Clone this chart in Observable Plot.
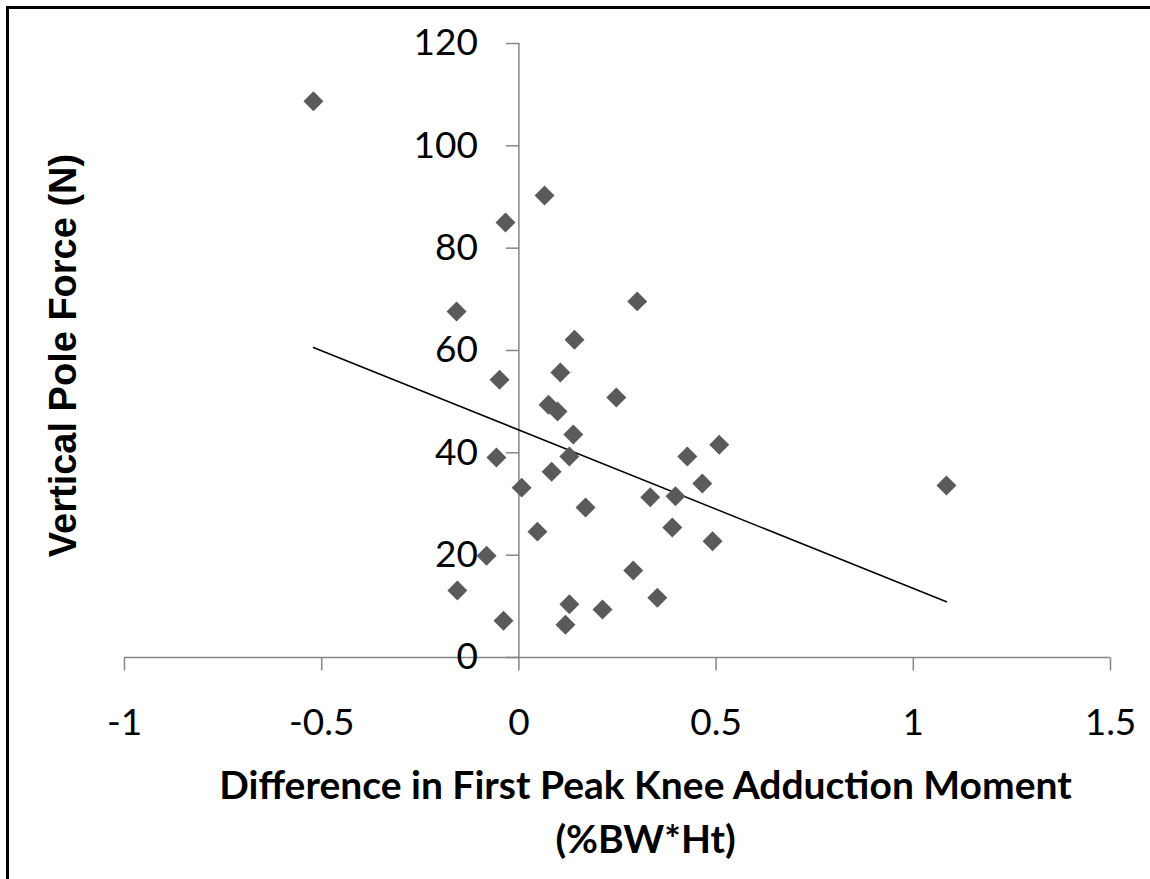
<!DOCTYPE html>
<html><head><meta charset="utf-8">
<script src="https://cdn.jsdelivr.net/npm/d3@7"></script>
<script src="https://cdn.jsdelivr.net/npm/@observablehq/plot@0.6"></script>
<style>
html,body{margin:0;padding:0;background:#fff;overflow:hidden;}
#wrap{position:relative;width:1150px;height:879px;overflow:hidden;background:#fff;}
#frame{position:absolute;left:6px;top:6px;width:1300px;height:1000px;border:3px solid #000;box-sizing:border-box;pointer-events:none;}
#chart{position:absolute;left:0;top:0;}
</style></head><body>
<div id="wrap"><div id="chart"></div><div id="frame"></div></div>
<script>
// Difference in first peak knee adduction moment (%BW*Ht)
const xValues = [-0.521, -0.034, 0.065, -0.158, 0.300, 0.141, -0.049, 0.105, 0.075, 0.098,
                 0.247, 0.138, 0.508, -0.057, 0.128, 0.427, 0.083, 0.465, 0.007, 0.333,
                 0.397, 1.084, 0.169, 0.047, 0.389, 0.491, -0.082, 0.290, -0.156, 0.128,
                 0.351, 0.212, -0.039, 0.118];
// Vertical pole force (N)
const yValues = [108.7, 85.0, 90.3, 67.6, 69.6, 62.1, 54.3, 55.7, 49.4, 48.1,
                 50.8, 43.6, 41.6, 39.1, 39.3, 39.3, 36.3, 34.0, 33.2, 31.3,
                 31.5, 33.6, 29.3, 24.6, 25.4, 22.7, 19.9, 17.0, 13.1, 10.4,
                 11.7, 9.4, 7.2, 6.4];
const trendX = [-0.521, 1.084];
const trendY = [60.6, 10.9];
const xTicks = [-1, -0.5, 0, 0.5, 1, 1.5];
const xTickLabels = ["-1", "-0.5", "0", "0.5", "1", "1.5"];
const yTicks = [0, 20, 40, 60, 80, 100, 120];
const yTickLabels = ["0", "20", "40", "60", "80", "100", "120"];
const xTitle = "Difference in First Peak Knee Adduction Moment\n(%BW*Ht)";
const yTitle = "Vertical Pole Force (N)";

const points = xValues.map((x, i) => ({x, y: yValues[i]}));
const trend = trendX.map((x, i) => ({x, y: trendY[i]}));

const axisColor = "#868686";
const tickDown = {draw(ctx) { ctx.moveTo(0, 0); ctx.lineTo(0, 13); }};
const tickLeft = {draw(ctx) { ctx.moveTo(-13, 0); ctx.lineTo(0, 0); }};
const labelFont = "Lato, 'Open Sans', sans-serif";

const chart = Plot.plot({
  width: 1150,
  height: 879,
  marginLeft: 124,
  marginRight: 40,
  marginTop: 43,
  marginBottom: 222,
  style: {fontFamily: labelFont, background: "transparent"},
  x: {domain: [-1, 1.5], axis: null},
  y: {domain: [0, 120], axis: null},
  marks: [
    Plot.ruleY([0], {x1: -1, x2: 1.5, stroke: axisColor, strokeWidth: 1.5}),
    Plot.ruleX([0], {y1: 0, y2: 120, stroke: axisColor, strokeWidth: 1.5}),
    Plot.dot(xTicks, {x: d => d, y: 0, symbol: tickDown, r: 1, fill: "none", stroke: axisColor, strokeWidth: 1.5}),
    Plot.dot(yTicks, {x: 0, y: d => d, symbol: tickLeft, r: 1, fill: "none", stroke: axisColor, strokeWidth: 1.5}),
    Plot.text(xTicks, {x: d => d, y: 0, text: (d, i) => xTickLabels[i], dy: 66, lineAnchor: "middle",
      fontSize: 37, fill: "#000", fontFamily: labelFont}),
    Plot.text(yTicks, {x: 0, y: d => d, text: (d, i) => yTickLabels[i], dx: -41, textAnchor: "end",
      lineAnchor: "middle", fontSize: 37, fill: "#000", fontFamily: labelFont}),
    Plot.line(trend, {x: "x", y: "y", stroke: "#000", strokeWidth: 1.5}),
    Plot.dot(points, {x: "x", y: "y", symbol: "diamond2", r: 9, fill: "#5a5a5a", stroke: "none"}),
    Plot.text([xTitle], {frameAnchor: "bottom", textAnchor: "middle", dx: 28, dy: 151, lineAnchor: "middle", lineHeight: 1.4,
      fontSize: 39, fontWeight: "bold", fill: "#000", fontFamily: labelFont}),
    Plot.text([yTitle], {frameAnchor: "left", textAnchor: "middle", rotate: -90, dx: -61, dy: 5, lineAnchor: "middle",
      fontSize: 38, fontWeight: "bold", fill: "#000", fontFamily: "'Liberation Sans', Arial, sans-serif"})
  ]
});
document.getElementById("chart").appendChild(chart);
</script>
</body></html>
